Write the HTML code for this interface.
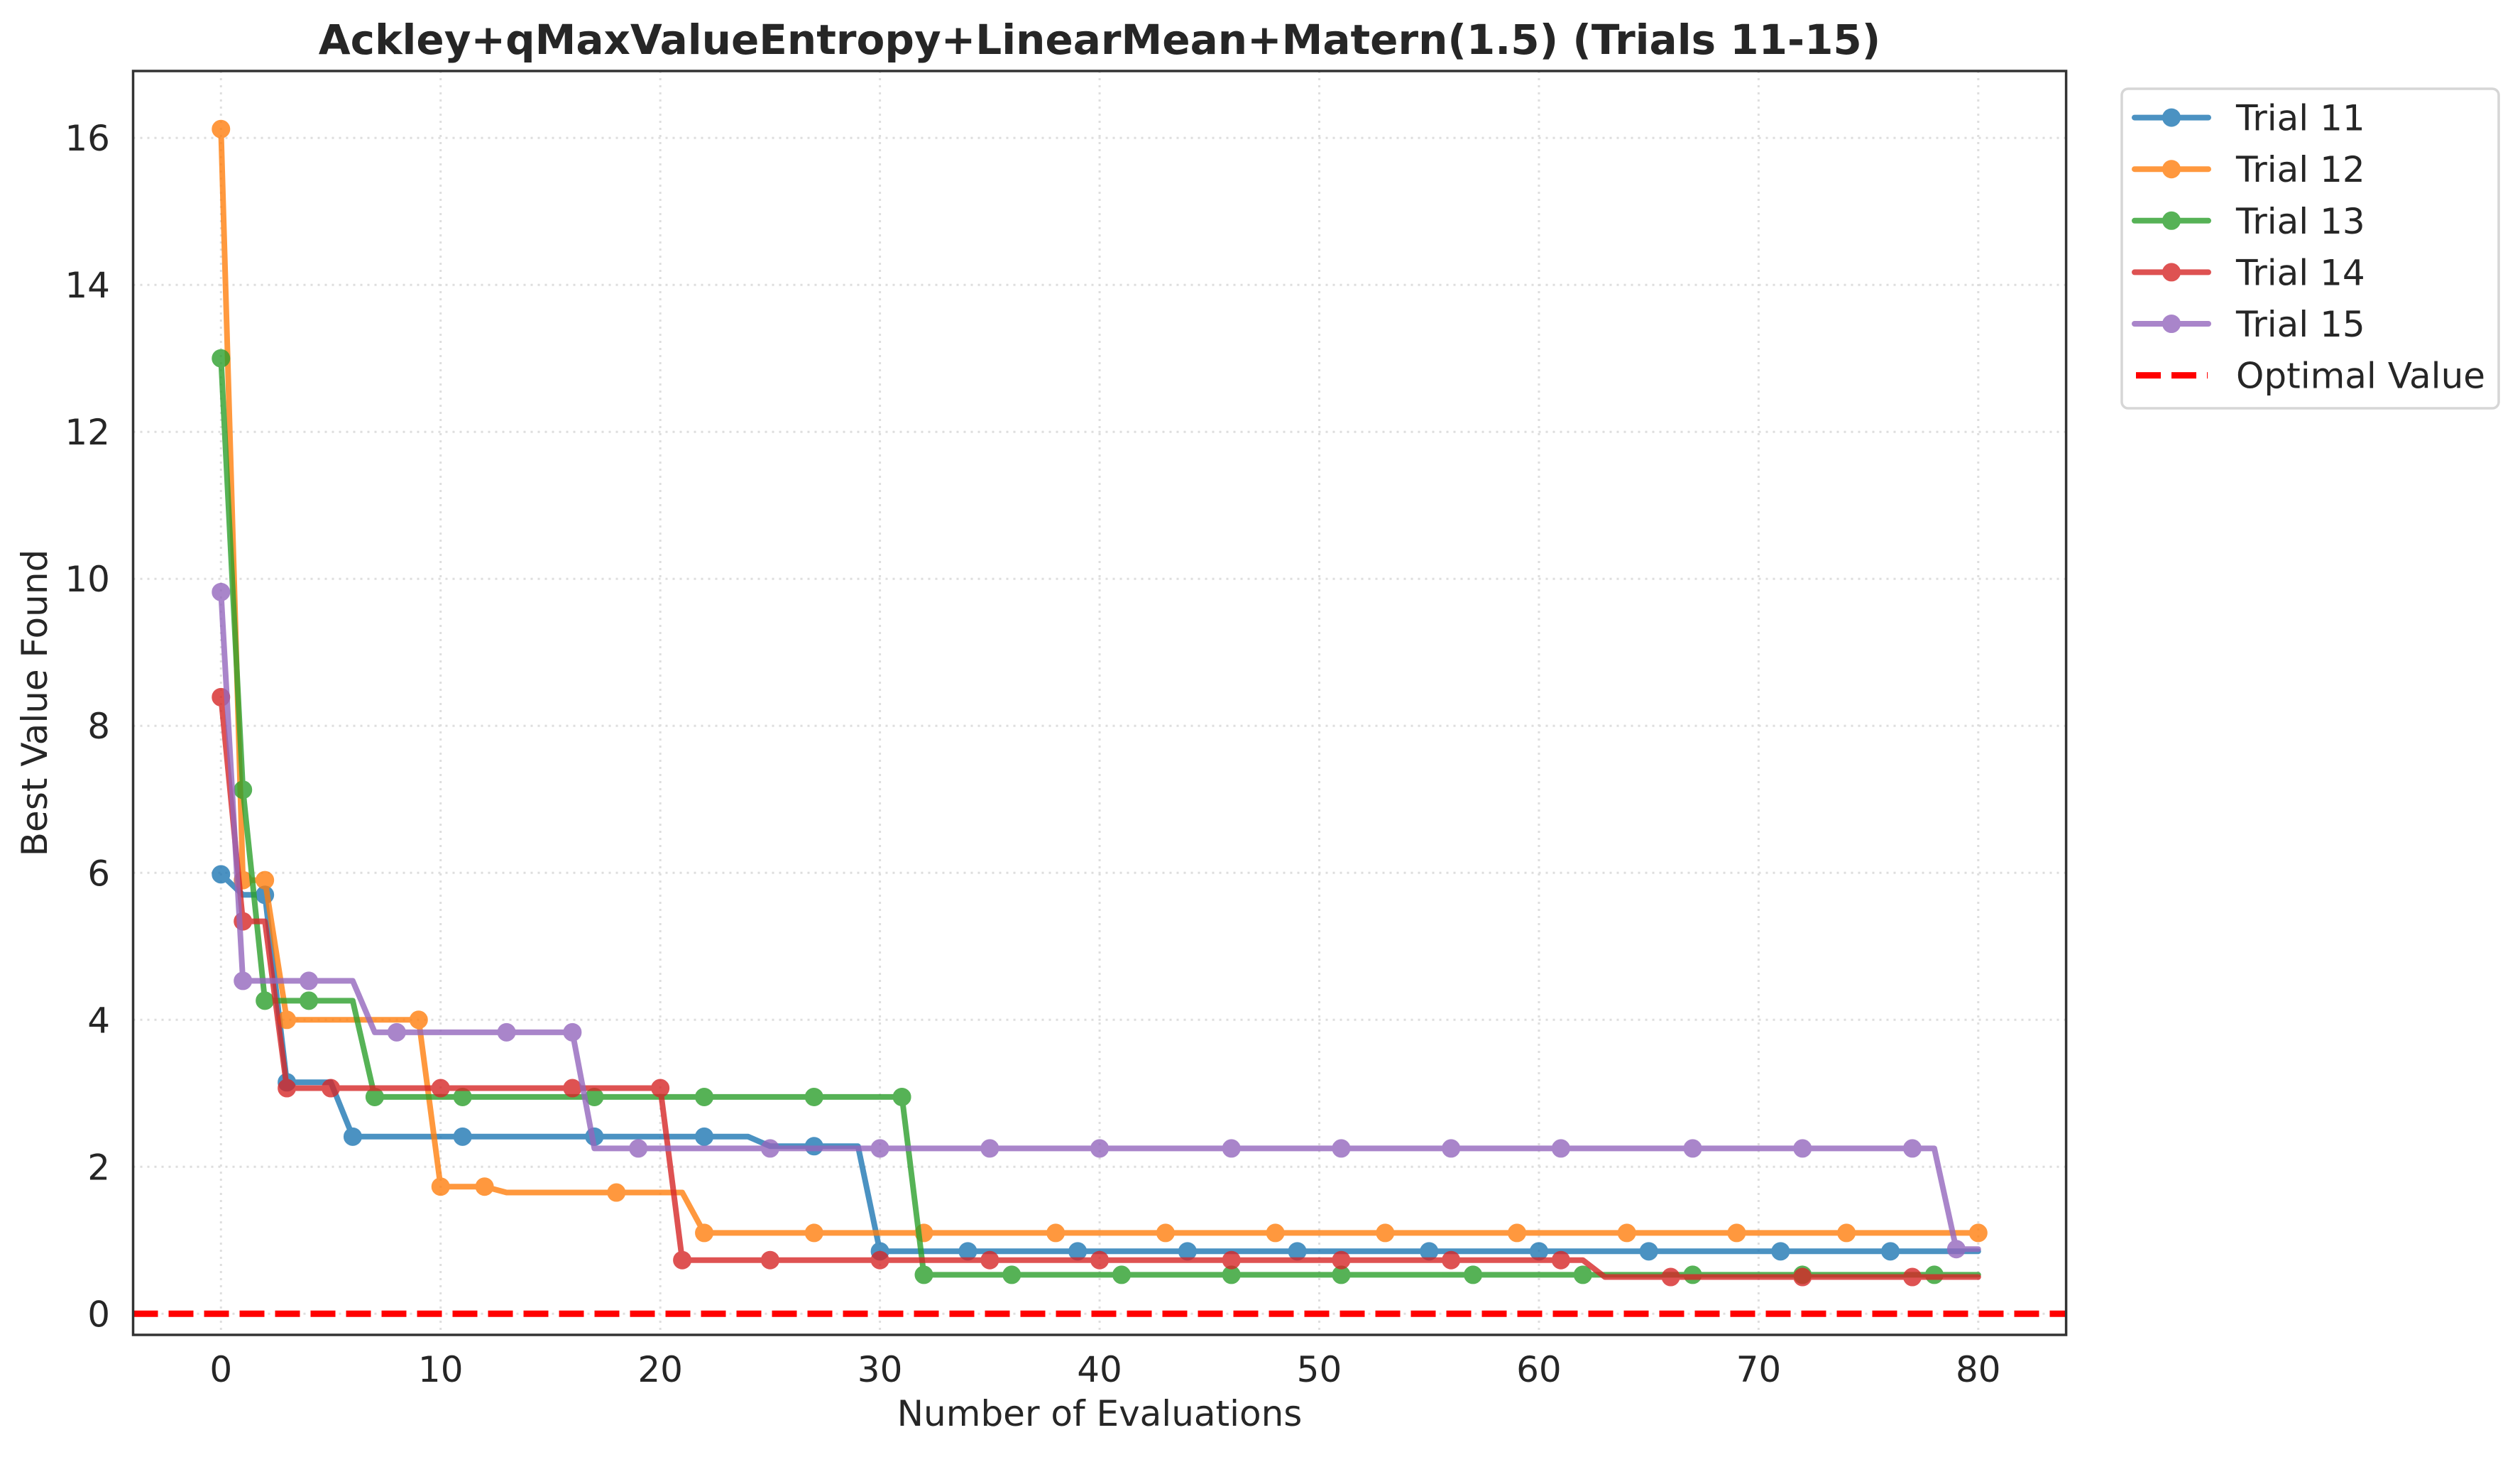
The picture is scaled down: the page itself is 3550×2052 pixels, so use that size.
<!DOCTYPE html>
<html><head><meta charset="utf-8"><style>
html,body{margin:0;padding:0;background:#fff;}
svg{display:block;font-family:"DejaVu Sans","Liberation Sans",sans-serif;}
</style></head><body>
<svg id="chart" width="3550" height="2052" viewBox="0 0 3550 2052" xmlns="http://www.w3.org/2000/svg">
<rect width="3550" height="2052" fill="#fff"/>
<g id="grid"></g>
<g id="series"></g>
<g id="axes"></g>
<text x="1549" y="76" font-size="58" font-weight="bold" text-anchor="middle" fill="#262626">Ackley+qMaxValueEntropy+LinearMean+Matern(1.5) (Trials 11-15)</text>
<text x="1549" y="2008" font-size="50" text-anchor="middle" fill="#262626">Number of Evaluations</text>
<text x="0" y="0" font-size="50" text-anchor="middle" fill="#262626" transform="translate(66,990) rotate(-90)">Best Value Found</text>
<g id="legend"></g>
</svg>
<script>
const xTicks = [0,10,20,30,40,50,60,70,80];
const yTicks = [0,2,4,6,8,10,12,14,16];
const seriesNames = ["Trial 11","Trial 12","Trial 13","Trial 14","Trial 15"];
const seriesColors = ["#1f77b4","#ff7f0e","#2ca02c","#d62728","#9467bd"];
const optimalValue = 0;
// step-change points: [evaluation, value]; value holds until next point, series ends at 80
const trial11 = [[0,5.98],[1,5.7],[2,5.7],[3,3.15],[5,3.15],[6,2.41],[24,2.41],[25,2.28],[29,2.28],[30,0.85],[80,0.85]];
const trial12 = [[0,16.12],[1,5.9],[2,5.9],[3,4.0],[9,4.0],[10,1.73],[12,1.73],[13,1.65],[21,1.65],[22,1.1],[80,1.1]];
const trial13 = [[0,13.0],[1,7.13],[2,4.26],[6,4.26],[7,2.95],[31,2.95],[32,0.53],[80,0.53]];
const trial14 = [[0,8.39],[1,5.34],[2,5.34],[3,3.07],[20,3.07],[21,0.73],[62,0.73],[63,0.5],[80,0.5]];
const trial15 = [[0,9.82],[1,4.53],[6,4.53],[7,3.83],[16,3.83],[17,2.25],[78,2.25],[79,0.88],[80,0.88]];
const markers11 = [0,2,3,6,11,17,22,27,30,34,39,44,49,55,60,65,71,76];
const markers12 = [0,1,2,3,9,10,12,18,22,27,32,38,43,48,53,59,64,69,74,80];
const markers13 = [0,1,2,4,7,11,17,22,27,31,32,36,41,46,51,57,62,67,72,78];
const markers14 = [0,1,3,5,10,16,20,21,25,30,35,40,46,51,56,61,66,72,77];
const markers15 = [0,1,4,8,13,16,19,25,30,35,40,46,51,56,61,67,72,77,79];

const allSeries = [trial11,trial12,trial13,trial14,trial15];
const allMarkers = [markers11,markers12,markers13,markers14,markers15];
const NS = "http://www.w3.org/2000/svg";
const L=187.5,R=2910.6,T=100,B=1880;
const xMin=-4,xMax=84,yMin=-0.287,yMax=16.91;
function sx(v){return L+(v-xMin)/(xMax-xMin)*(R-L);}
function sy(v){return B-(v-yMin)/(yMax-yMin)*(B-T);}
function mk(tag,attrs,parent){const e=document.createElementNS(NS,tag);for(const k in attrs)e.setAttribute(k,attrs[k]);parent.appendChild(e);return e;}
function valueAt(s,x){let v=s[0][1];for(const p of s){if(p[0]<=x)v=p[1];}return v;}

const grid=document.getElementById('grid');
xTicks.forEach(t=>{const l=mk('line',{x1:sx(t),x2:sx(t),y1:T,y2:B,stroke:'#dedede','stroke-width':3,'stroke-dasharray':'3 7'},grid);

});
yTicks.forEach(t=>{const l=mk('line',{x1:L,x2:R,y1:sy(t),y2:sy(t),stroke:'#dedede','stroke-width':3,'stroke-dasharray':'3 7'},grid);

});

const sg=document.getElementById('series');
const opt=mk('line',{x1:L,x2:R,y1:sy(optimalValue),y2:sy(optimalValue),stroke:'#ff0000','stroke-width':9,'stroke-dasharray':'35 15'},sg);


allSeries.forEach((s,i)=>{
  const g=mk('g',{opacity:0.8},sg);
  
  
  const pts=[];
  for(let x=0;x<=80;x++){pts.push(sx(x).toFixed(1)+','+sy(valueAt(s,x)).toFixed(1));}
  const pl=mk('polyline',{points:pts.join(' '),fill:'none',stroke:seriesColors[i],'stroke-width':8,'stroke-linejoin':'round','stroke-linecap':'round'},g);
  
  
  allMarkers[i].forEach(m=>{
    const c=mk('circle',{cx:sx(m),cy:sy(valueAt(s,m)),r:12,fill:seriesColors[i],stroke:seriesColors[i],'stroke-width':2},g);
    
    
  });
});

const ax=document.getElementById('axes');
const frame=mk('rect',{x:L,y:T,width:R-L,height:B-T,fill:'none',stroke:'#333','stroke-width':3.5},ax);


xTicks.forEach(t=>{const tx=mk('text',{x:sx(t),y:1946,'font-size':50,'text-anchor':'middle',fill:'#262626'},ax);tx.textContent=t;

});
yTicks.forEach(t=>{const tx=mk('text',{x:155,y:sy(t)+18,'font-size':50,'text-anchor':'end',fill:'#262626'},ax);tx.textContent=t;

});

const lg=document.getElementById('legend');
const box=mk('rect',{x:2989,y:125,width:531,height:450,rx:9,fill:'#fff',stroke:'#d6d6d6','stroke-width':3.5},lg);


const labels=seriesNames.concat(["Optimal Value"]);
labels.forEach((name,i)=>{
  const cy=165.6+i*72.6;
  const eg=mk('g',{},lg);
  
  
  if(i<5){
    const hg=mk('g',{opacity:0.8},eg);
    mk('line',{x1:3007,x2:3111,y1:cy,y2:cy,stroke:seriesColors[i],'stroke-width':8,'stroke-linecap':'round'},hg);
    mk('circle',{cx:3059,cy:cy,r:12,fill:seriesColors[i],stroke:seriesColors[i],'stroke-width':2},hg);
  } else {
    mk('line',{x1:3009,x2:3110,y1:cy,y2:cy,stroke:'#ff0000','stroke-width':9,'stroke-dasharray':'35 15'},eg);
  }
  const tx=mk('text',{x:3150,y:cy+18,'font-size':50,fill:'#262626'},eg);
  tx.textContent=name;
});
</script>
</body></html>
